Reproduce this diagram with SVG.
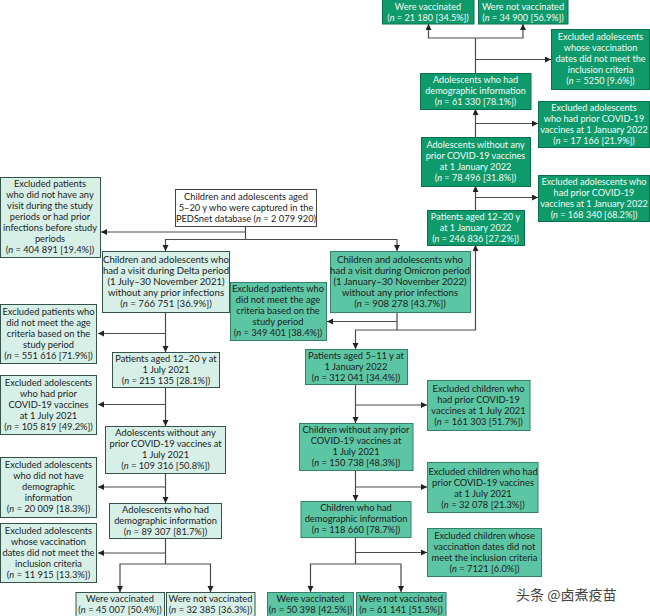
<svg xmlns="http://www.w3.org/2000/svg" width="650" height="616" viewBox="0 0 650 616">
<style>
text{font-family:"Lato","Liberation Sans",sans-serif;font-size:9.3px;text-anchor:middle;fill:#1c1c1c}
.i{font-style:italic}
.l rect{fill:#d6f0e8;stroke:#35524b;stroke-width:1}
.w rect{fill:#fff;stroke:#444;stroke-width:1}
.m rect{fill:#5cc5a3;stroke:#35806a;stroke-width:1}
.d rect{fill:#0f9a6c;stroke:#0b6e4f;stroke-width:1}
.d text{fill:#f2fbf7;font-size:9.1px}
.b text{font-size:9.6px}
.c path{fill:none;stroke:#4a4a4a;stroke-width:1.2}
.wm{font-family:"Noto Sans CJK SC",sans-serif;font-size:14px;fill:#444;text-anchor:start}
</style>
<defs><marker id="a" markerUnits="userSpaceOnUse" markerWidth="7" markerHeight="7" refX="6" refY="3" orient="auto"><path d="M0 0L6 3L0 6Z" fill="#222"/></marker></defs>
<g id="connectors" class="c">
<path d="M245.5 226V239.5"/>
<path d="M245.5 232H101" marker-end="url(#a)"/>
<path d="M245.5 239.5H165.5V251" marker-end="url(#a)"/>
<path d="M245.5 239.5H397V251" marker-end="url(#a)"/>
<path d="M165.5 312V352" marker-end="url(#a)"/>
<path d="M165.5 333.5H98" marker-end="url(#a)"/>
<path d="M165.5 387V426" marker-end="url(#a)"/>
<path d="M165.5 404.5H98" marker-end="url(#a)"/>
<path d="M165.5 473V503" marker-end="url(#a)"/>
<path d="M165.5 487H98" marker-end="url(#a)"/>
<path d="M165.5 538V564"/>
<path d="M165.5 553H98" marker-end="url(#a)"/>
<path d="M165.5 564H120V592" marker-end="url(#a)"/>
<path d="M165.5 564H210.5V592" marker-end="url(#a)"/>
<path d="M397 312V330"/>
<path d="M397 321.5H327" marker-end="url(#a)"/>
<path d="M397 330H355.5V349" marker-end="url(#a)"/>
<path d="M397 330H475.5V245" marker-end="url(#a)"/>
<path d="M475.5 210V186" marker-end="url(#a)"/>
<path d="M475.5 197.5H538" marker-end="url(#a)"/>
<path d="M475.5 137V109" marker-end="url(#a)"/>
<path d="M475.5 123.5H538" marker-end="url(#a)"/>
<path d="M475.5 73V38"/>
<path d="M475.5 59.5H551" marker-end="url(#a)"/>
<path d="M475.5 38H428.5V24" marker-end="url(#a)"/>
<path d="M475.5 38H523V24" marker-end="url(#a)"/>
<path d="M355.5 384V423" marker-end="url(#a)"/>
<path d="M355.5 405H427" marker-end="url(#a)"/>
<path d="M355.5 470V501" marker-end="url(#a)"/>
<path d="M355.5 487H427" marker-end="url(#a)"/>
<path d="M355.5 537V564"/>
<path d="M355.5 552.5H427" marker-end="url(#a)"/>
<path d="M355.5 564H310.5V592" marker-end="url(#a)"/>
<path d="M355.5 564H401V592" marker-end="url(#a)"/>
</g>
<g id="n-root" class="w"><rect x="175.5" y="189.5" width="141" height="37"/><text y="199.8"><tspan x="246">Children and adolescents aged</tspan><tspan x="246" dy="11">5–20 y who were captured in the</tspan><tspan x="246" dy="11">PEDSnet database (<tspan class="i">n</tspan> = 2 079 920)</tspan></text></g>
<g id="n-ex-novisit" class="l"><rect x="0.5" y="177.5" width="100" height="80"/><text y="187.3"><tspan x="50">Excluded patients</tspan><tspan x="50" dy="11">who did not have any</tspan><tspan x="50" dy="11">visit during the study</tspan><tspan x="50" dy="11">periods or had prior</tspan><tspan x="50" dy="11">infections before study</tspan><tspan x="50" dy="11">periods</tspan><tspan x="50" dy="11">(<tspan class="i">n</tspan> = 404 891 [19.4%])</tspan></text></g>
<g id="n-delta" class="l b"><rect x="102.5" y="251.5" width="127" height="61"/><text y="262.8"><tspan x="166">Children and adolescents who</tspan><tspan x="166" dy="11">had a visit during Delta period</tspan><tspan x="166" dy="11">(1 July–30 November 2021)</tspan><tspan x="166" dy="11">without any prior infections</tspan><tspan x="166" dy="11">(<tspan class="i">n</tspan> = 766 751 [36.9%])</tspan></text></g>
<g id="n-ex-age-l" class="l"><rect x="0.5" y="304.5" width="96" height="59"/><text y="314.8"><tspan x="48.5">Excluded patients who</tspan><tspan x="48.5" dy="11">did not meet the age</tspan><tspan x="48.5" dy="11">criteria based on the</tspan><tspan x="48.5" dy="11">study period</tspan><tspan x="48.5" dy="11">(<tspan class="i">n</tspan> = 551 616 [71.9%])</tspan></text></g>
<g id="n-p12-l" class="l"><rect x="112.5" y="352.5" width="107" height="35"/><text y="361.8"><tspan x="166">Patients aged 12–20 y at</tspan><tspan x="166" dy="11">1 July 2021</tspan><tspan x="166" dy="11">(<tspan class="i">n</tspan> = 215 135 [28.1%])</tspan></text></g>
<g id="n-ex-prior-l" class="l"><rect x="0.5" y="375.5" width="96" height="59"/><text y="385.8"><tspan x="48.5">Excluded adolescents</tspan><tspan x="48.5" dy="11">who had prior</tspan><tspan x="48.5" dy="11">COVID-19 vaccines</tspan><tspan x="48.5" dy="11">at 1 July 2021</tspan><tspan x="48.5" dy="11">(<tspan class="i">n</tspan> = 105 819 [49.2%])</tspan></text></g>
<g id="n-adol-l" class="l"><rect x="105.5" y="426.5" width="120" height="47"/><text y="436.3"><tspan x="165.5">Adolescents without any</tspan><tspan x="165.5" dy="11">prior COVID-19 vaccines at</tspan><tspan x="165.5" dy="11">1 July 2021</tspan><tspan x="165.5" dy="11">(<tspan class="i">n</tspan> = 109 316 [50.8%])</tspan></text></g>
<g id="n-ex-demo-l" class="l"><rect x="0.5" y="457.5" width="96" height="60"/><text y="468.3"><tspan x="48.5">Excluded adolescents</tspan><tspan x="48.5" dy="11">who did not have</tspan><tspan x="48.5" dy="11">demographic</tspan><tspan x="48.5" dy="11">information</tspan><tspan x="48.5" dy="11">(<tspan class="i">n</tspan> = 20 009 [18.3%])</tspan></text></g>
<g id="n-demo-l" class="l"><rect x="109.5" y="503.5" width="112" height="35"/><text y="512.8"><tspan x="165.5">Adolescents who had</tspan><tspan x="165.5" dy="11">demographic information</tspan><tspan x="165.5" dy="11">(<tspan class="i">n</tspan> = 89 307 [81.7%])</tspan></text></g>
<g id="n-ex-vacc-l" class="l"><rect x="0.5" y="523.5" width="96" height="59"/><text y="533.8"><tspan x="48.5">Excluded adolescents</tspan><tspan x="48.5" dy="11">whose vaccination</tspan><tspan x="48.5" dy="11">dates did not meet the</tspan><tspan x="48.5" dy="11">inclusion criteria</tspan><tspan x="48.5" dy="11">(<tspan class="i">n</tspan> = 11 915 [13.3%])</tspan></text></g>
<g id="n-v-l" class="l"><rect x="76" y="592.5" width="88.5" height="24"/><text y="601.8"><tspan x="120">Were vaccinated</tspan><tspan x="120" dy="11">(<tspan class="i">n</tspan> = 45 007 [50.4%])</tspan></text></g>
<g id="n-nv-l" class="l"><rect x="166.5" y="592.5" width="88.5" height="24"/><text y="601.8"><tspan x="210.5">Were not vaccinated</tspan><tspan x="210.5" dy="11">(<tspan class="i">n</tspan> = 32 385 [36.3%])</tspan></text></g>
<g id="n-omicron" class="m b"><rect x="330.5" y="251.5" width="140" height="61"/><text y="262.8"><tspan x="400">Children and adolescents who</tspan><tspan x="400" dy="11">had a visit during Omicron period</tspan><tspan x="400" dy="11">(1 January–30 November 2022)</tspan><tspan x="400" dy="11">without any prior infections</tspan><tspan x="400" dy="11">(<tspan class="i">n</tspan> = 908 278 [43.7%])</tspan></text></g>
<g id="n-ex-age-m" class="m"><rect x="230.5" y="282.5" width="96" height="58"/><text y="292.3"><tspan x="278">Excluded patients who</tspan><tspan x="278" dy="11">did not meet the age</tspan><tspan x="278" dy="11">criteria based on the</tspan><tspan x="278" dy="11">study period</tspan><tspan x="278" dy="11">(<tspan class="i">n</tspan> = 349 401 [38.4%])</tspan></text></g>
<g id="n-p5" class="m"><rect x="305.5" y="349.5" width="102" height="35"/><text y="358.8"><tspan x="356">Patients aged 5–11 y at</tspan><tspan x="356" dy="11">1 January 2022</tspan><tspan x="356" dy="11">(<tspan class="i">n</tspan> = 312 041 [34.4%])</tspan></text></g>
<g id="n-ex-ch1" class="m"><rect x="427.5" y="380.5" width="102.5" height="50"/><text y="391.8"><tspan x="478.5">Excluded children who</tspan><tspan x="478.5" dy="11">had prior COVID-19</tspan><tspan x="478.5" dy="11">vaccines at 1 July 2021</tspan><tspan x="478.5" dy="11">(<tspan class="i">n</tspan> = 161 303 [51.7%])</tspan></text></g>
<g id="n-ch-wo" class="m"><rect x="299.5" y="423.5" width="113.5" height="47"/><text y="433.3"><tspan x="356">Children without any prior</tspan><tspan x="356" dy="11">COVID-19 vaccines at</tspan><tspan x="356" dy="11">1 July 2021</tspan><tspan x="356" dy="11">(<tspan class="i">n</tspan> = 150 738 [48.3%])</tspan></text></g>
<g id="n-ex-ch2" class="m"><rect x="427.5" y="462.5" width="110.5" height="50"/><text y="474.8"><tspan x="483">Excluded children who had</tspan><tspan x="483" dy="11">prior COVID-19 vaccines</tspan><tspan x="483" dy="11">at 1 July 2021</tspan><tspan x="483" dy="11">(<tspan class="i">n</tspan> = 32 078 [21.3%])</tspan></text></g>
<g id="n-ch-demo" class="m"><rect x="301" y="501.5" width="110" height="36"/><text y="511.3"><tspan x="356">Children who had</tspan><tspan x="356" dy="11">demographic information</tspan><tspan x="356" dy="11">(<tspan class="i">n</tspan> = 118 660 [78.7%])</tspan></text></g>
<g id="n-ex-ch3" class="m"><rect x="427.5" y="528.5" width="114" height="48"/><text y="538.8"><tspan x="484.5">Excluded children whose</tspan><tspan x="484.5" dy="11">vaccination dates did not</tspan><tspan x="484.5" dy="11">meet the inclusion criteria</tspan><tspan x="484.5" dy="11">(<tspan class="i">n</tspan> = 7121 [6.0%])</tspan></text></g>
<g id="n-v-m" class="m"><rect x="267.5" y="592.5" width="86" height="24"/><text y="601.8"><tspan x="310.5">Were vaccinated</tspan><tspan x="310.5" dy="11">(<tspan class="i">n</tspan> = 50 398 [42.5%])</tspan></text></g>
<g id="n-nv-m" class="m"><rect x="356.5" y="592.5" width="89.5" height="24"/><text y="601.8"><tspan x="401">Were not vaccinated</tspan><tspan x="401" dy="11">(<tspan class="i">n</tspan> = 61 141 [51.5%])</tspan></text></g>
<g id="n-p12-r" class="d"><rect x="427.5" y="210.5" width="97" height="35"/><text y="219.8"><tspan x="475.5">Patients aged 12–20 y</tspan><tspan x="475.5" dy="11">at 1 January 2022</tspan><tspan x="475.5" dy="11">(<tspan class="i">n</tspan> = 246 836 [27.2%])</tspan></text></g>
<g id="n-ex-r1" class="d"><rect x="538.5" y="175.5" width="111" height="46"/><text y="184.8"><tspan x="594">Excluded adolescents who</tspan><tspan x="594" dy="11">had prior COVID-19</tspan><tspan x="594" dy="11">vaccines at 1 January 2022</tspan><tspan x="594" dy="11">(<tspan class="i">n</tspan> = 168 340 [68.2%])</tspan></text></g>
<g id="n-adol-r" class="d"><rect x="421.5" y="137.5" width="109" height="49"/><text y="148.3"><tspan x="475.5">Adolescents without any</tspan><tspan x="475.5" dy="11">prior COVID-19 vaccines</tspan><tspan x="475.5" dy="11">at 1 January 2022</tspan><tspan x="475.5" dy="11">(<tspan class="i">n</tspan> = 78 496 [31.8%])</tspan></text></g>
<g id="n-ex-r2" class="d"><rect x="538.5" y="101.5" width="111" height="46"/><text y="110.8"><tspan x="594">Excluded adolescents</tspan><tspan x="594" dy="11">who had prior COVID-19</tspan><tspan x="594" dy="11">vaccines at 1 January 2022</tspan><tspan x="594" dy="11">(<tspan class="i">n</tspan> = 17 166 [21.9%])</tspan></text></g>
<g id="n-demo-r" class="d"><rect x="420.5" y="73.5" width="110.5" height="36"/><text y="83.3"><tspan x="475.5">Adolescents who had</tspan><tspan x="475.5" dy="11">demographic information</tspan><tspan x="475.5" dy="11">(<tspan class="i">n</tspan> = 61 330 [78.1%])</tspan></text></g>
<g id="n-ex-r3" class="d"><rect x="551.5" y="29.5" width="98" height="60"/><text y="40.3"><tspan x="600.5">Excluded adolescents</tspan><tspan x="600.5" dy="11">whose vaccination</tspan><tspan x="600.5" dy="11">dates did not meet the</tspan><tspan x="600.5" dy="11">inclusion criteria</tspan><tspan x="600.5" dy="11">(<tspan class="i">n</tspan> = 5250 [9.6%])</tspan></text></g>
<g id="n-v-r" class="d"><rect x="382.5" y="-1" width="91.5" height="25"/><text y="9.8"><tspan x="428">Were vaccinated</tspan><tspan x="428" dy="11">(<tspan class="i">n</tspan> = 21 180 [34.5%])</tspan></text></g>
<g id="n-nv-r" class="d"><rect x="478.5" y="-1" width="89.5" height="25"/><text y="9.8"><tspan x="523">Were not vaccinated</tspan><tspan x="523" dy="11">(<tspan class="i">n</tspan> = 34 900 [56.9%])</tspan></text></g>
<text class="wm" x="516" y="600">头条 @卤煮疫苗</text>
</svg>
